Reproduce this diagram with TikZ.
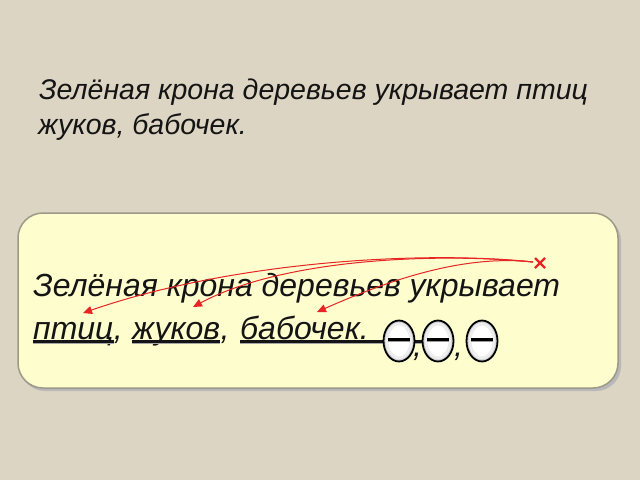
\documentclass[tikz,border=0pt]{standalone}
\usepackage{fontspec}
\setmainfont{Liberation Sans}
\usetikzlibrary{arrows.meta,calc,shapes.geometric}
\definecolor{bg}{RGB}{221,213,195}
\definecolor{boxfill}{RGB}{253,253,206}
\definecolor{boxedge}{RGB}{158,152,136}
\definecolor{arr}{RGB}{232,36,36}
\definecolor{ink}{RGB}{20,20,20}
\begin{document}
\begin{tikzpicture}[x=1pt,y=-1pt,
  toptxt/.style={font=\fontsize{28.5}{34}\selectfont\itshape, text=ink, inner sep=0pt, anchor=base west},
  boxtxt/.style={font=\fontsize{32}{38}\selectfont\itshape, text=ink, inner sep=0pt, anchor=base west},
  arrowline/.style={draw=arr, line width=1pt, -{Triangle[length=9pt,width=8pt]}},
  uline/.style={line width=2.2pt, ink},
  ushadow/.style={line width=1.6pt, black!35},
  oval/.style={ellipse, draw=black, line width=1.8pt, minimum width=31pt, minimum height=41pt, inner sep=0pt, fill=white,
    path picture={\draw[black!16, line width=6pt] (path picture bounding box.center) ellipse (15.5pt and 20.5pt);
                  \draw[black!7, line width=10pt] (path picture bounding box.center) ellipse (15.5pt and 20.5pt);
                  \draw[black!18, line width=4pt] (path picture bounding box.center) ellipse (15.5pt and 20.5pt);}},
  dashmark/.style={line width=3pt, black},
  dashshadow/.style={line width=1.5pt, black!40},
  xmarkstyle/.style={draw=arr, line width=2.4pt}]
\fill[bg] (0,0) rectangle (640,480);
\useasboundingbox (0,0) rectangle (640,480);
% top text
\node[toptxt] (l1) at (39,99) {Зелёная крона деревьев укрывает птиц};
\node[toptxt] (l2) at (38,134) {жуков, бабочек.};
% box
\fill[black!28, rounded corners=25pt] (20,216) rectangle (621,391);
\node[draw=boxedge, line width=1.5pt, fill=boxfill, rounded corners=25pt, minimum width=600pt, minimum height=175pt, inner sep=0pt] (box) at (318,300.5) {};
% box text
\node[boxtxt] (b1) at (33,296) {Зелёная крона деревьев укрывает};
\node[boxtxt] (w1) at (33,339) {птиц};
\node[boxtxt] (c1) at (w1.base east) {,};
\node[boxtxt] (w2) at (132,339) {жуков};
\node[boxtxt] (c2) at (w2.base east) {,};
\node[boxtxt] (w3) at (240,339) {бабочек.};
% underlines
\draw[ushadow] ($(w1.base west)+(0,4.3)$) -- ($(w1.base east)+(0,4.3)$);
\draw[uline] ($(w1.base west)+(0,2.5)$) -- ($(w1.base east)+(0,2.5)$);
\draw[ushadow] ($(w2.base west)+(0,4.3)$) -- ($(w2.base east)+(0,4.3)$);
\draw[uline] ($(w2.base west)+(0,2.5)$) -- ($(w2.base east)+(0,2.5)$);
\coordinate (uend) at (424,341.5);
\draw[ushadow] ($(w3.base west)+(0,4.3)$) -- ($(uend)+(0,1.8)$);
\draw[uline] ($(w3.base west)+(0,2.5)$) -- (uend);
% ovals
\node[oval] (o1) at (399,341) {};
\node[oval] (o2) at (438,341) {};
\node[oval] (o3) at (482,341) {};
\foreach \o in {o1,o2,o3}{
  \draw[dashshadow] ($(\o.center)+(-11,0)$) -- ($(\o.center)+(11,0)$);
  \draw[dashmark] ($(\o.center)+(-11,-2)$) -- ($(\o.center)+(11,-2)$);
}
\node[boxtxt] (k1) at (413,356) {,};
\node[boxtxt] (k2) at (454,356) {,};
% red cross
\coordinate (xc) at (540,263);
\draw[xmarkstyle] ($(xc)+(-5,-5)$) -- ($(xc)+(5,5)$);
\draw[xmarkstyle] ($(xc)+(-5,5)$) -- ($(xc)+(5,-5)$);
\coordinate (xm) at (533,262);
\coordinate (t1) at (83,313);
\coordinate (t2) at (193,307);
\coordinate (t3) at (317,312);
\draw[arrowline] (xm) .. controls (420,250) and (230,262) .. (t1);
\draw[arrowline] (xm) .. controls (430,252) and (280,260) .. (t2);
\draw[arrowline] (xm) .. controls (470,255) and (400,275) .. (t3);
\end{tikzpicture}
\end{document}
